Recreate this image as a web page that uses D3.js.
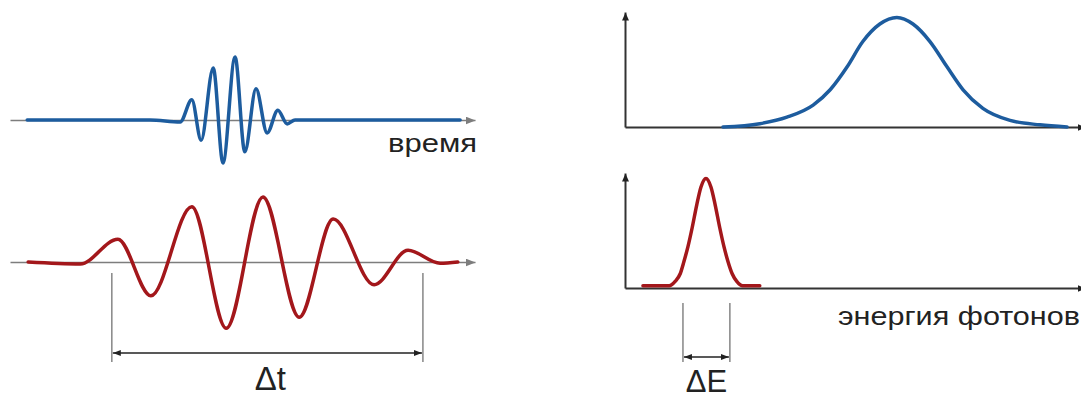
<!DOCTYPE html>
<html>
<head>
<meta charset="utf-8">
<script src="https://cdn.jsdelivr.net/npm/d3@7"></script>
<style>
  html, body { margin: 0; padding: 0; background: #fff; }
  svg { display: block; }
</style>
</head>
<body>
<svg id="chart" width="1081" height="398"></svg>
<script>
// ---------- DATA ----------
// Short pulse in time (blue), time in arbitrary units 0..100, amplitude -1..1
const shortPulseT = [3.7, 30.1, 36.6, 39.1, 41.1, 43.7, 45.8, 48.4, 50.5, 52.9, 55.3, 57.6, 59.6, 61.3, 96.8];
const shortPulseA = [0, 0, -0.03, 0.31, -0.31, 0.80, -0.66, 0.97, -0.49, 0.48, -0.20, 0.15, -0.06, 0, 0];

// Long pulse in time (red)
const longPulseT = [3.9, 15.1, 23.2, 30.3, 39.1, 46.5, 54.4, 62.2, 69.5, 78.3, 85.6, 92.5, 96.3];
const longPulseA = [0, -0.03, 0.35, -0.52, 0.85, -1.02, 1.00, -0.85, 0.66, -0.35, 0.18, -0.02, 0];

// Broad spectrum (blue), photon energy in arbitrary units 0..100, intensity 0..1
const broadE = [21.3, 29.3, 35.2, 40.9, 44.6, 48.3, 51.7, 55.4, 59.1, 62.6, 66.3, 70.0, 73.5, 77.8, 83.7, 90.2, 96.1];
const broadI = [0, 0.03, 0.09, 0.20, 0.34, 0.55, 0.78, 0.94, 1.00, 0.94, 0.78, 0.55, 0.34, 0.17, 0.06, 0.02, 0];

// Narrow spectrum (red)
const narrowE = [3.9, 9.6, 10.9, 12.0, 12.8, 13.7, 14.6, 15.6, 16.5, 17.6, 18.7, 19.6, 20.6, 21.5, 22.4, 23.3, 24.3, 25.6, 29.3];
const narrowI = [0.02, 0.02, 0.06, 0.13, 0.24, 0.38, 0.55, 0.76, 0.92, 1.00, 0.92, 0.76, 0.55, 0.38, 0.24, 0.13, 0.06, 0.02, 0.02];

// Widths marked on the figure
const deltaT = [21.9, 88.8];   // time units
const deltaE = [12.6, 22.8];   // energy units

// Texts
const timeLabel = "время";
const energyLabel = "энергия фотонов";
const deltaTLabel = "Δt";
const deltaELabel = "ΔE";

// ---------- DRAWING ----------
const svg = d3.select("#chart");
const BLUE = "#1d5c9e", RED = "#a3171b", GREY = "#7d7d7d", DARK = "#222";

const defs = svg.append("defs");
function marker(id, color, w, h) {
  defs.append("marker").attr("id", id)
    .attr("viewBox", `0 0 ${w} ${h}`).attr("refX", w).attr("refY", h / 2)
    .attr("markerWidth", w).attr("markerHeight", h)
    .attr("markerUnits", "userSpaceOnUse").attr("orient", "auto-start-reverse")
    .append("path").attr("d", `M0,0L${w},${h / 2}L0,${h}Z`).attr("fill", color);
}
marker("arrGrey", GREY, 10, 8);
marker("arrBlack", DARK, 8, 7);
marker("arrSmall", DARK, 8, 6);

// Scales
const xTime = d3.scaleLinear().domain([0, 100]).range([10, 475]);
const yWaveTop = d3.scaleLinear().domain([-1, 1]).range([185, 55]);
const yWaveBot = d3.scaleLinear().domain([-1, 1]).range([327, 197]);
const xEnergy = d3.scaleLinear().domain([0, 100]).range([625, 1085]);
const ySpecTop = d3.scaleLinear().domain([0, 1.05]).range([127, 12]);
const ySpecBot = d3.scaleLinear().domain([0, 1.05]).range([288, 173]);

function styleAxis(g, color, width, markerId) {
  g.select(".domain").attr("stroke", color).attr("stroke-width", width)
    .attr("marker-end", `url(#${markerId})`);
  g.selectAll(".tick").remove();
}

// Time axes (grey)
svg.append("g").attr("transform", `translate(0,${yWaveTop(0)})`)
  .call(d3.axisBottom(xTime).ticks(0).tickSizeOuter(0))
  .call(g => styleAxis(g, GREY, 1.6, "arrGrey"));
svg.append("g").attr("transform", `translate(0,${yWaveBot(0)})`)
  .call(d3.axisBottom(xTime).ticks(0).tickSizeOuter(0))
  .call(g => styleAxis(g, GREY, 1.6, "arrGrey"));

// Energy axes (dark)
[ySpecTop, ySpecBot].forEach(ys => {
  svg.append("g").attr("transform", `translate(0,${ys(0)})`)
    .call(d3.axisBottom(xEnergy).ticks(0).tickSizeOuter(0))
    .call(g => styleAxis(g, "#333", 2, "arrBlack"));
  svg.append("g").attr("transform", `translate(${xEnergy(0)},0)`)
    .call(d3.axisLeft(ys).ticks(0).tickSizeOuter(0))
    .call(g => styleAxis(g, "#333", 2, "arrBlack"));
});

// Curves
function drawCurve(xs, ys, xArr, yArr, color) {
  const pts = xArr.map((v, i) => [v, yArr[i]]);
  svg.append("path").datum(pts)
    .attr("fill", "none").attr("stroke", color).attr("stroke-width", 3.5)
    .attr("stroke-linejoin", "round").attr("stroke-linecap", "round")
    .attr("d", d3.line().x(d => xs(d[0])).y(d => ys(d[1])).curve(d3.curveMonotoneX));
}
drawCurve(xTime, yWaveTop, shortPulseT, shortPulseA, BLUE);
drawCurve(xTime, yWaveBot, longPulseT, longPulseA, RED);
drawCurve(xEnergy, ySpecTop, broadE, broadI, BLUE);
drawCurve(xEnergy, ySpecBot, narrowE, narrowI, RED);

// Width brackets
function bracket(xs, bounds, y0, y1, yArrow, mk) {
  const g = svg.append("g");
  g.selectAll("line.v").data(bounds).join("line")
    .attr("x1", d => xs(d)).attr("x2", d => xs(d))
    .attr("y1", y0).attr("y2", y1)
    .attr("stroke", GREY).attr("stroke-width", 1.4);
  g.append("line")
    .attr("x1", xs(bounds[0]) + 1).attr("x2", xs(bounds[1]) - 1)
    .attr("y1", yArrow).attr("y2", yArrow)
    .attr("stroke", DARK).attr("stroke-width", 1.6)
    .attr("marker-start", `url(#${mk})`).attr("marker-end", `url(#${mk})`);
}
bracket(xTime, deltaT, 273, 362, 353, "arrSmall");
bracket(xEnergy, deltaE, 303, 362, 357, "arrSmall");

// Labels
const font = "'Liberation Sans', Arial, sans-serif";
svg.append("text").text(timeLabel)
  .attr("x", 388).attr("y", 152)
  .attr("textLength", 89).attr("lengthAdjust", "spacingAndGlyphs")
  .attr("font-family", font).attr("font-size", 25).attr("fill", "#222");
svg.append("text").text(energyLabel)
  .attr("x", 838).attr("y", 325)
  .attr("textLength", 242).attr("lengthAdjust", "spacingAndGlyphs")
  .attr("font-family", font).attr("font-size", 25).attr("fill", "#222");
svg.append("text").text(deltaTLabel)
  .attr("x", xTime(d3.mean(deltaT)) + 3).attr("y", 390)
  .attr("text-anchor", "middle")
  .attr("font-family", font).attr("font-size", 33).attr("fill", "#222");
svg.append("text").text(deltaELabel)
  .attr("x", xEnergy(d3.mean(deltaE))).attr("y", 392)
  .attr("text-anchor", "middle")
  .attr("font-family", font).attr("font-size", 31).attr("fill", "#222");
</script>
</body>
</html>
